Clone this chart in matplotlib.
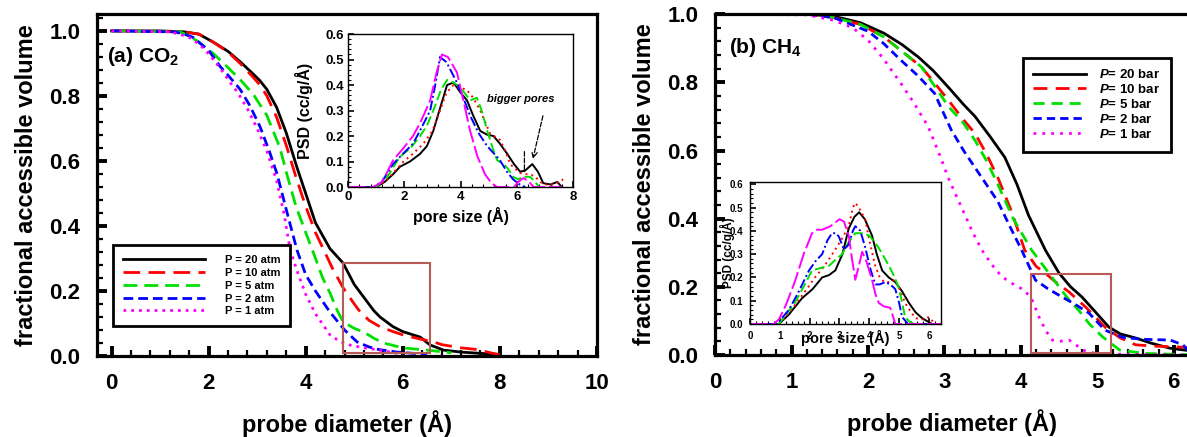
import numpy as np
import matplotlib
matplotlib.use("Agg")
import matplotlib.pyplot as plt
from matplotlib.patches import Rectangle
from matplotlib.ticker import MultipleLocator

plt.rcParams['font.family'] = ['Liberation Sans', 'DejaVu Sans']
plt.rcParams['font.weight'] = 'bold'
plt.rcParams['axes.labelweight'] = 'bold'
plt.rcParams['mathtext.fontset'] = 'custom'
plt.rcParams['mathtext.rm'] = 'Liberation Sans:bold'
plt.rcParams['mathtext.bf'] = 'Liberation Sans:bold'
plt.rcParams['mathtext.it'] = 'Liberation Sans:bold:italic'
plt.rcParams['mathtext.default'] = 'bf'

# ---- (a) CO2, fractional accessible volume vs probe diameter
co2_x20 = [0, 1.0, 1.5, 1.8, 2.1, 2.4, 2.65, 2.9, 3.05, 3.2, 3.4, 3.6, 3.82, 4.0, 4.2, 4.5, 4.77, 5.0, 5.2, 5.4, 5.53, 5.8, 6.0, 6.36, 6.56, 6.84, 7.2, 7.6, 8.0]
co2_y20 = [1.0, 1.0, 0.997, 0.99, 0.965, 0.937, 0.905, 0.87, 0.848, 0.82, 0.765, 0.686, 0.58, 0.5, 0.41, 0.33, 0.286, 0.22, 0.18, 0.14, 0.12, 0.09, 0.075, 0.058, 0.034, 0.018, 0.012, 0.008, 0.005]
co2_x10 = [0, 1.5, 1.8, 2.1, 2.4, 2.65, 2.9, 3.05, 3.2, 3.4, 3.61, 3.8, 4.0, 4.2, 4.36, 4.55, 4.77, 5.0, 5.1, 5.3, 5.53, 5.8, 6.0, 6.36, 6.6, 6.8, 7.2, 7.53, 7.8, 8.0]
co2_y10 = [1.0, 0.997, 0.99, 0.965, 0.935, 0.9, 0.86, 0.835, 0.8, 0.735, 0.643, 0.55, 0.46, 0.38, 0.33, 0.27, 0.21, 0.16, 0.14, 0.11, 0.09, 0.075, 0.065, 0.052, 0.045, 0.035, 0.025, 0.02, 0.01, 0.003]
co2_x5 = [0, 1.4, 1.6, 1.82, 2.1, 2.38, 2.65, 2.92, 3.2, 3.47, 3.61, 3.8, 4.0, 4.16, 4.35, 4.5, 4.65, 4.77, 5.0, 5.19, 5.4, 5.6, 6.0, 6.5, 7.0]
co2_y5 = [1.0, 0.997, 0.985, 0.963, 0.93, 0.89, 0.85, 0.805, 0.74, 0.64, 0.56, 0.46, 0.38, 0.317, 0.24, 0.194, 0.14, 0.105, 0.085, 0.074, 0.055, 0.04, 0.025, 0.018, 0.01]
co2_x2 = [0, 1.3, 1.5, 1.68, 2.0, 2.24, 2.45, 2.65, 2.85, 3.06, 3.25, 3.41, 3.6, 3.82, 4.0, 4.2, 4.5, 4.8, 5.06, 5.3, 5.5, 5.88, 6.5]
co2_y2 = [1.0, 0.997, 0.99, 0.98, 0.94, 0.89, 0.855, 0.82, 0.77, 0.705, 0.63, 0.56, 0.45, 0.326, 0.25, 0.2, 0.135, 0.08, 0.043, 0.028, 0.02, 0.012, 0.005]
co2_x1 = [0, 1.2, 1.4, 1.6, 1.8, 2.0, 2.24, 2.45, 2.6, 2.8, 3.0, 3.2, 3.4, 3.55, 3.68, 3.85, 4.0, 4.2, 4.5, 4.7, 4.9, 5.2, 5.53, 6.0]
co2_y1 = [1.0, 0.997, 0.99, 0.98, 0.96, 0.93, 0.885, 0.84, 0.81, 0.76, 0.7, 0.63, 0.54, 0.44, 0.326, 0.25, 0.19, 0.13, 0.065, 0.045, 0.034, 0.025, 0.018, 0.005]

# ---- (a) inset, CO2 pore size distribution
co2_psd_x20 = [0, 1.0, 1.3, 1.6, 1.85, 2.2, 2.56, 2.8, 3.03, 3.3, 3.52, 3.75, 4.0, 4.23, 4.45, 4.7, 4.95, 5.17, 5.4, 5.66, 5.9, 6.12, 6.3, 6.55, 6.75, 6.94, 7.2, 7.44, 7.6]
co2_psd_y20 = [0, 0, 0.02, 0.05, 0.08, 0.1, 0.13, 0.16, 0.22, 0.32, 0.4, 0.41, 0.37, 0.34, 0.28, 0.22, 0.205, 0.2, 0.17, 0.13, 0.09, 0.06, 0.065, 0.09, 0.06, 0.015, 0.01, 0.02, 0.0]
co2_psd_x10 = [0, 1.0, 1.4, 1.97, 2.3, 2.68, 3.0, 3.27, 3.5, 3.75, 4.0, 4.23, 4.45, 4.7, 5.05, 5.4, 5.6, 5.76, 6.12, 6.6, 6.94, 7.3, 7.65]
co2_psd_y10 = [0, 0, 0.03, 0.1, 0.13, 0.17, 0.22, 0.3, 0.37, 0.4, 0.39, 0.38, 0.35, 0.3, 0.21, 0.185, 0.14, 0.09, 0.055, 0.045, 0.01, 0.01, 0.03]
co2_psd_x5 = [0, 1.0, 1.4, 1.85, 2.2, 2.56, 2.8, 3.03, 3.3, 3.52, 3.75, 4.0, 4.34, 4.58, 4.75, 4.95, 5.15, 5.3, 5.54, 5.7, 5.87, 6.05, 6.2, 6.47, 6.65, 6.8]
co2_psd_y5 = [0, 0, 0.04, 0.12, 0.15, 0.2, 0.24, 0.3, 0.38, 0.42, 0.41, 0.39, 0.34, 0.35, 0.3, 0.22, 0.15, 0.105, 0.09, 0.07, 0.04, 0.03, 0.04, 0.04, 0.02, 0.0]
co2_psd_x2 = [0, 0.9, 1.2, 1.6, 1.95, 2.31, 2.6, 2.92, 3.1, 3.27, 3.5, 3.87, 4.1, 4.34, 4.65, 4.95, 5.2, 5.4, 5.65, 5.87, 6.1, 6.3]
co2_psd_y2 = [0, 0, 0.02, 0.09, 0.13, 0.17, 0.23, 0.3, 0.4, 0.51, 0.49, 0.41, 0.35, 0.28, 0.21, 0.16, 0.13, 0.105, 0.06, 0.03, 0.01, 0.0]
co2_psd_x1 = [0, 0.9, 1.2, 1.4, 1.6, 1.95, 2.31, 2.6, 2.92, 3.15, 3.34, 3.55, 3.87, 4.1, 4.34, 4.6, 4.87, 5.1, 5.3, 5.9, 6.05, 6.23, 6.4, 6.6, 7.6]
co2_psd_y1 = [0, 0, 0.02, 0.06, 0.105, 0.15, 0.2, 0.26, 0.34, 0.45, 0.52, 0.51, 0.45, 0.34, 0.22, 0.12, 0.05, 0.015, 0.0, 0.0, 0.02, 0.035, 0.025, 0.0, 0.0]

# ---- (b) CH4, fractional accessible volume vs probe diameter
ch4_x20 = [0, 1.2, 1.55, 1.9, 2.21, 2.45, 2.66, 2.85, 3.05, 3.25, 3.4, 3.6, 3.79, 3.95, 4.1, 4.32, 4.5, 4.65, 4.8, 5.0, 5.15, 5.3, 5.5, 5.7, 5.95, 6.3]
ch4_y20 = [1.0, 1.0, 0.994, 0.975, 0.944, 0.91, 0.874, 0.835, 0.786, 0.735, 0.7, 0.64, 0.58, 0.5, 0.41, 0.308, 0.24, 0.2, 0.17, 0.12, 0.082, 0.062, 0.05, 0.035, 0.02, 0.01]
ch4_x10 = [0, 1.2, 1.55, 1.9, 2.21, 2.45, 2.7, 2.9, 3.05, 3.25, 3.4, 3.55, 3.7, 3.88, 4.05, 4.2, 4.32, 4.45, 4.63, 4.85, 5.1, 5.3, 5.5, 5.75, 6.03, 6.3]
ch4_y10 = [1.0, 1.0, 0.99, 0.97, 0.933, 0.89, 0.845, 0.79, 0.748, 0.69, 0.65, 0.59, 0.52, 0.42, 0.308, 0.26, 0.24, 0.215, 0.185, 0.14, 0.082, 0.05, 0.03, 0.026, 0.024, 0.02]
ch4_x5 = [0, 1.2, 1.55, 1.9, 2.21, 2.45, 2.7, 2.9, 3.05, 3.25, 3.4, 3.55, 3.7, 3.9, 4.14, 4.4, 4.6, 4.76, 4.9, 5.07, 5.29, 5.6, 6.3]
ch4_y5 = [1.0, 1.0, 0.99, 0.97, 0.933, 0.89, 0.845, 0.78, 0.73, 0.68, 0.63, 0.57, 0.5, 0.4, 0.308, 0.23, 0.17, 0.13, 0.09, 0.053, 0.015, 0.005, 0.0]
ch4_x2 = [0, 1.2, 1.55, 2.0, 2.2, 2.43, 2.65, 2.87, 3.09, 3.25, 3.4, 3.55, 3.7, 3.85, 4.01, 4.19, 4.35, 4.54, 4.7, 4.89, 5.1, 5.33, 5.6, 5.95, 6.12, 6.2, 6.25]
ch4_y2 = [1.0, 1.0, 0.99, 0.95, 0.915, 0.865, 0.82, 0.768, 0.66, 0.6, 0.55, 0.5, 0.45, 0.38, 0.308, 0.22, 0.195, 0.17, 0.15, 0.123, 0.073, 0.052, 0.046, 0.044, 0.03, 0.01, 0.0]
ch4_x1 = [0, 1.2, 1.55, 1.8, 2.0, 2.2, 2.43, 2.6, 2.79, 2.95, 3.05, 3.15, 3.25, 3.37, 3.49, 3.62, 3.75, 3.92, 4.05, 4.15, 4.24, 4.33, 4.41, 4.5, 4.63, 4.72, 4.8, 5.0, 6.3]
ch4_y1 = [1.0, 0.998, 0.982, 0.96, 0.924, 0.87, 0.797, 0.74, 0.669, 0.58, 0.52, 0.47, 0.42, 0.36, 0.308, 0.265, 0.23, 0.205, 0.19, 0.16, 0.11, 0.07, 0.044, 0.04, 0.044, 0.03, 0.015, 0.003, 0.0]

# ---- (b) inset, CH4 pore size distribution
ch4_psd_x20 = [0, 0.97, 1.3, 1.74, 2.1, 2.42, 2.65, 2.86, 3.1, 3.31, 3.5, 3.66, 3.85, 4.09, 4.25, 4.43, 4.65, 4.87, 5.1, 5.33, 5.55, 5.77, 6.1, 6.4]
ch4_psd_y20 = [0, 0, 0.04, 0.11, 0.15, 0.2, 0.21, 0.23, 0.3, 0.41, 0.46, 0.48, 0.45, 0.38, 0.3, 0.23, 0.2, 0.18, 0.14, 0.09, 0.05, 0.025, 0.0, 0.0]
ch4_psd_x10 = [0, 0.97, 1.2, 1.5, 1.85, 2.18, 2.5, 2.86, 3.1, 3.31, 3.45, 3.53, 3.65, 3.86, 4.0, 4.2, 4.35, 4.5, 4.7, 4.87, 5.05, 5.2, 5.4, 5.55, 5.8, 6.0, 6.2]
ch4_psd_y10 = [0, 0, 0.03, 0.08, 0.14, 0.2, 0.25, 0.32, 0.37, 0.42, 0.5, 0.52, 0.5, 0.45, 0.36, 0.25, 0.2, 0.18, 0.18, 0.19, 0.14, 0.09, 0.05, 0.025, 0.02, 0.03, 0.0]
ch4_psd_x5 = [0, 0.97, 1.2, 1.5, 1.8, 2.08, 2.35, 2.65, 2.9, 3.09, 3.3, 3.53, 3.75, 4.0, 4.3, 4.66, 4.85, 5.0, 5.1, 5.2, 5.35, 5.5, 6.4]
ch4_psd_y5 = [0, 0, 0.04, 0.09, 0.16, 0.23, 0.24, 0.25, 0.28, 0.3, 0.35, 0.39, 0.39, 0.38, 0.33, 0.25, 0.2, 0.15, 0.09, 0.03, 0.01, 0.0, 0.0]
ch4_psd_x2 = [0, 0.9, 1.1, 1.3, 1.6, 1.98, 2.2, 2.42, 2.6, 2.75, 2.88, 2.98, 3.15, 3.3, 3.45, 3.53, 3.7, 3.86, 4.05, 4.2, 4.35, 4.53, 4.7, 4.87, 5.0, 5.1, 5.3, 6.4]
ch4_psd_y2 = [0, 0, 0.03, 0.06, 0.13, 0.23, 0.27, 0.3, 0.36, 0.39, 0.39, 0.375, 0.32, 0.34, 0.4, 0.42, 0.4, 0.33, 0.23, 0.17, 0.17, 0.18, 0.17, 0.15, 0.09, 0.03, 0.0, 0.0]
ch4_psd_x1 = [0, 0.8, 0.97, 1.2, 1.5, 1.8, 2.08, 2.25, 2.42, 2.7, 3.0, 3.15, 3.31, 3.42, 3.53, 3.65, 3.76, 3.9, 4.09, 4.2, 4.32, 4.5, 4.7, 4.8, 4.87, 6.4]
ch4_psd_y1 = [0, 0, 0.02, 0.08, 0.18, 0.3, 0.39, 0.405, 0.405, 0.42, 0.45, 0.44, 0.38, 0.28, 0.19, 0.25, 0.31, 0.27, 0.19, 0.13, 0.09, 0.075, 0.07, 0.03, 0.0, 0.0]

labels_atm = ["P = 20 atm", "P = 10 atm", "P = 5 atm", "P = 2 atm", "P = 1 atm"]
labels_bar = [r"$\mathit{P}$= 20 bar", r"$\mathit{P}$= 10 bar", r"$\mathit{P}$= 5 bar",
              r"$\mathit{P}$= 2 bar", r"$\mathit{P}$= 1 bar"]

colors = ["black", "red", "#00e000", "blue", "#ff00ff"]
main_dash = [None, (6, 3), (5, 2.5), (3.5, 1.8), (1, 1.8)]
inset_dash = [None, (1, 2), (5, 2), (5, 1.5, 1, 1.5), (9, 2)]


def style_main(ax):
    for s in ax.spines.values():
        s.set_linewidth(2.3)
    ax.tick_params(which='both', direction='in', top=False, right=False)
    ax.tick_params(which='major', length=7, width=2.8, labelsize=16, pad=12)
    ax.tick_params(which='minor', length=4, width=1.6)


def style_inset(ax, size, pad):
    for s in ax.spines.values():
        s.set_linewidth(1.0)
    ax.tick_params(which='both', direction='in')
    ax.tick_params(which='major', length=4, width=1.2, labelsize=size, pad=pad)
    ax.tick_params(which='minor', length=2, width=0.8)


def draw(ax, xs, ys, dashes, lw, labels=None):
    for i in range(len(xs)):
        ln, = ax.plot(xs[i], ys[i], color=colors[i], lw=lw,
                      label=None if labels is None else labels[i])
        if dashes[i] is not None:
            ln.set_dashes(dashes[i])


fig = plt.figure(figsize=(11.87, 4.37), dpi=100)

# ------------- left panel
ax1 = fig.add_axes([0.0817, 0.1854, 0.4212, 0.7826])
draw(ax1, [co2_x20, co2_x10, co2_x5, co2_x2, co2_x1],
     [co2_y20, co2_y10, co2_y5, co2_y2, co2_y1], main_dash, 2.0, labels_atm)
ax1.set_xlim(-0.3, 10)
ax1.set_ylim(0, 1.052)
ax1.set_xticks([0, 2, 4, 6, 8, 10])
ax1.set_yticks([0, 0.2, 0.4, 0.6, 0.8, 1.0])
ax1.set_yticklabels(["0.0", "0.2", "0.4", "0.6", "0.8", "1.0"])
ax1.xaxis.set_minor_locator(MultipleLocator(0.4))
ax1.yaxis.set_minor_locator(MultipleLocator(0.04))
style_main(ax1)
ax1.set_xlabel("probe diameter (Å)", fontsize=17, labelpad=12)
ax1.set_ylabel("fractional accessible volume", fontsize=17, labelpad=8)
ax1.text(0.02, 0.86, r"(a) CO$_2$", transform=ax1.transAxes, fontsize=15)
ax1.add_patch(Rectangle((4.77, 0.01), 6.56 - 4.77, 0.286 - 0.01, fill=False,
                        edgecolor="#b85a58", lw=1.5, zorder=5))
leg1 = ax1.legend(loc='upper left', bbox_to_anchor=(0.02, 0.34), fontsize=8,
                  handlelength=7.4, handletextpad=1.8, labelspacing=0.25,
                  borderpad=0.9, fancybox=False, framealpha=1, edgecolor='black')
leg1.get_frame().set_linewidth(2.0)

# ------------- left inset
ax1i = fig.add_axes([0.2932, 0.572, 0.1896, 0.350])
draw(ax1i, [co2_psd_x20, co2_psd_x10, co2_psd_x5, co2_psd_x2, co2_psd_x1],
     [co2_psd_y20, co2_psd_y10, co2_psd_y5, co2_psd_y2, co2_psd_y1], inset_dash, 1.4)
ax1i.set_xlim(0, 8)
ax1i.set_ylim(0, 0.6)
ax1i.set_xticks([0, 2, 4, 6, 8])
ax1i.set_yticks(np.arange(0, 0.61, 0.1))
ax1i.set_yticklabels(["0.0", "0.1", "0.2", "0.3", "0.4", "0.5", "0.6"])
ax1i.xaxis.set_minor_locator(MultipleLocator(0.4))
ax1i.yaxis.set_minor_locator(MultipleLocator(0.02))
style_inset(ax1i, 9.5, 3)
ax1i.set_xlabel("pore size (Å)", fontsize=11.5, labelpad=3)
ax1i.set_ylabel("PSD (cc/g/Å)", fontsize=11.5, labelpad=9)
ax1i.text(4.95, 0.333, "bigger pores", fontsize=8, style='italic')
ax1i.annotate("", xy=(6.55, 0.1), xytext=(6.95, 0.29),
              arrowprops=dict(arrowstyle='->', linestyle='--', lw=0.9, color='black'))
ax1i.annotate("", xy=(6.27, 0.05), xytext=(6.27, 0.15),
              arrowprops=dict(arrowstyle='-', linestyle='--', lw=0.9, color='black'))

# ------------- right panel
ax2 = fig.add_axes([0.6024, 0.1876, 0.40, 0.780])
draw(ax2, [ch4_x20, ch4_x10, ch4_x5, ch4_x2, ch4_x1],
     [ch4_y20, ch4_y10, ch4_y5, ch4_y2, ch4_y1],
     [None, (5, 3), (4, 2.5), (3, 1.8), (1, 2.2)], 2.0, labels_bar)
ax2.set_xlim(0, 6.21)
ax2.set_ylim(0, 1.0)
ax2.set_xticks([0, 1, 2, 3, 4, 5, 6])
ax2.set_yticks([0, 0.2, 0.4, 0.6, 0.8, 1.0])
ax2.set_yticklabels(["0.0", "0.2", "0.4", "0.6", "0.8", "1.0"])
ax2.xaxis.set_minor_locator(MultipleLocator(0.2))
ax2.yaxis.set_minor_locator(MultipleLocator(0.04))
style_main(ax2)
ax2.spines['right'].set_visible(False)
ax2.set_xlabel("probe diameter (Å)", fontsize=17, labelpad=12)
ax2.set_ylabel("fractional accessible volume", fontsize=17, labelpad=8)
ax2.text(0.03, 0.885, r"(b) CH$_4$", transform=ax2.transAxes, fontsize=15)
ax2.add_patch(Rectangle((4.13, 0.006), 5.18 - 4.13, 0.238 - 0.006, fill=False,
                        edgecolor="#b85a58", lw=1.5, zorder=5))
leg2 = ax2.legend(loc='upper left', bbox_to_anchor=(0.634, 0.892), fontsize=9.5,
                  handlelength=4.0, handletextpad=1.0, labelspacing=0.15,
                  borderpad=0.8, fancybox=False, framealpha=1, edgecolor='black')
leg2.get_frame().set_linewidth(2.0)

# ------------- right inset
ax2i = fig.add_axes([0.6318, 0.2586, 0.1609, 0.325])
draw(ax2i, [ch4_psd_x20, ch4_psd_x10, ch4_psd_x5, ch4_psd_x2, ch4_psd_x1],
     [ch4_psd_y20, ch4_psd_y10, ch4_psd_y5, ch4_psd_y2, ch4_psd_y1], inset_dash, 1.4)
ax2i.set_xlim(0, 6.4)
ax2i.set_ylim(0, 0.61)
ax2i.set_xticks([0, 1, 2, 3, 4, 5, 6])
ax2i.set_yticks(np.arange(0, 0.61, 0.1))
ax2i.set_yticklabels(["0.0", "0.1", "0.2", "0.3", "0.4", "0.5", "0.6"])
ax2i.xaxis.set_minor_locator(MultipleLocator(0.2))
ax2i.yaxis.set_minor_locator(MultipleLocator(0.02))
style_inset(ax2i, 7, 5)
ax2i.set_xlabel("pore size (Å)", fontsize=10.5, labelpad=-8)
ax2i.set_ylabel("PSD (cc/g/Å)", fontsize=8.5, labelpad=-4)

fig.savefig("out.png", dpi=100)
